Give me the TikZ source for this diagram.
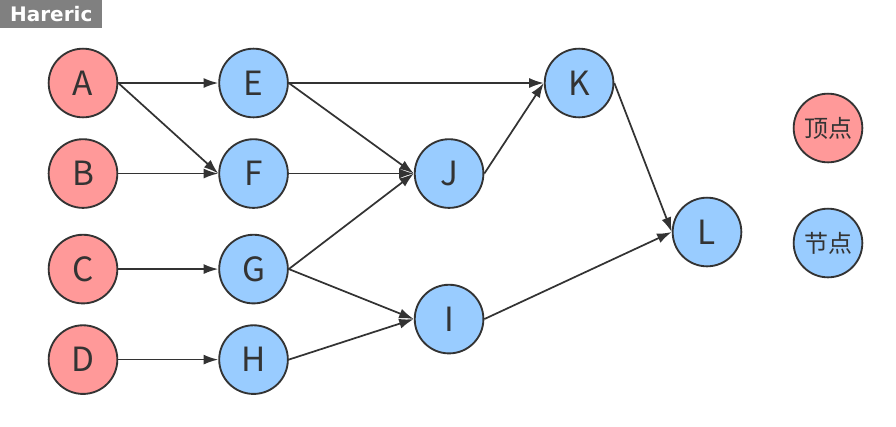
\documentclass[tikz,border=0pt]{standalone}
\usepackage{fontspec}
\setmainfont{Noto Sans CJK SC}
\newfontfamily\tagfont{DejaVu Sans}
\usetikzlibrary{arrows.meta,positioning}
\definecolor{redfill}{HTML}{FF9999}
\definecolor{bluefill}{HTML}{99CCFF}
\definecolor{ink}{HTML}{333333}
\definecolor{taggray}{HTML}{808080}

\begin{document}
\begin{tikzpicture}[
  x=0.75pt, y=-0.75pt,
  >={Latex[length=11pt, width=7.5pt]}, node distance=15pt and 75pt,
  vert/.style={circle, draw=ink, line width=1.4pt, fill=#1, text=ink,
               minimum size=51.5pt, inner sep=0pt, font=\fontsize{25}{25}\selectfont},
  vert/.default=bluefill,
  legend/.style={vert=#1, font=\fontsize{18}{18}\selectfont},
  edge/.style={->, draw=ink, line width=1.3pt}
]
\useasboundingbox (0,0) rectangle (896,426);
\node[fill=taggray, text=white, anchor=north west, minimum width=76.5pt, minimum height=21pt,
      inner sep=0pt, font=\tagfont\bfseries\fontsize{15}{15}\selectfont] (tag) at (0,0) {Hareric};

% sources
\node[vert=redfill] (A) at (83,83) {A};
\node[vert=redfill, below=of A] (B) {B};
\node[vert=redfill, below=18.75pt of B] (C) {C};
\node[vert=redfill, below=of C] (D) {D};

% inner nodes
\node[vert, right=of A] (E) {E};
\node[vert, right=of B] (F) {F};
\node[vert, right=of C] (G) {G};
\node[vert, right=of D] (H) {H};
\node[vert, right=93.75pt of F] (J) {J};
\node[vert, below=56.25pt of J] (I) {I};
\node[vert, right=191.25pt of E] (K) {K};
\node[vert] (L) at (707,232) {L};

% legend
\node[legend=redfill] (top) at (828,128) {顶点};
\node[legend=bluefill] (mid) at (828,243) {节点};

\draw[edge] (A.east) -- (E.west);
\draw[edge] (A.east) -- (F.west);
\draw[edge] (B.east) -- (F.west);
\draw[edge] (C.east) -- (G.west);
\draw[edge] (D.east) -- (H.west);
\draw[edge] (E.east) -- (K.west);
\draw[edge] (E.east) -- (J.west);
\draw[edge] (F.east) -- (J.west);
\draw[edge] (G.east) -- (J.west);
\draw[edge] (G.east) -- (I.west);
\draw[edge] (H.east) -- (I.west);
\draw[edge] (J.east) -- (K.west);
\draw[edge] (K.east) -- (L.west);
\draw[edge] (I.east) -- (L.west);
\end{tikzpicture}
\end{document}
